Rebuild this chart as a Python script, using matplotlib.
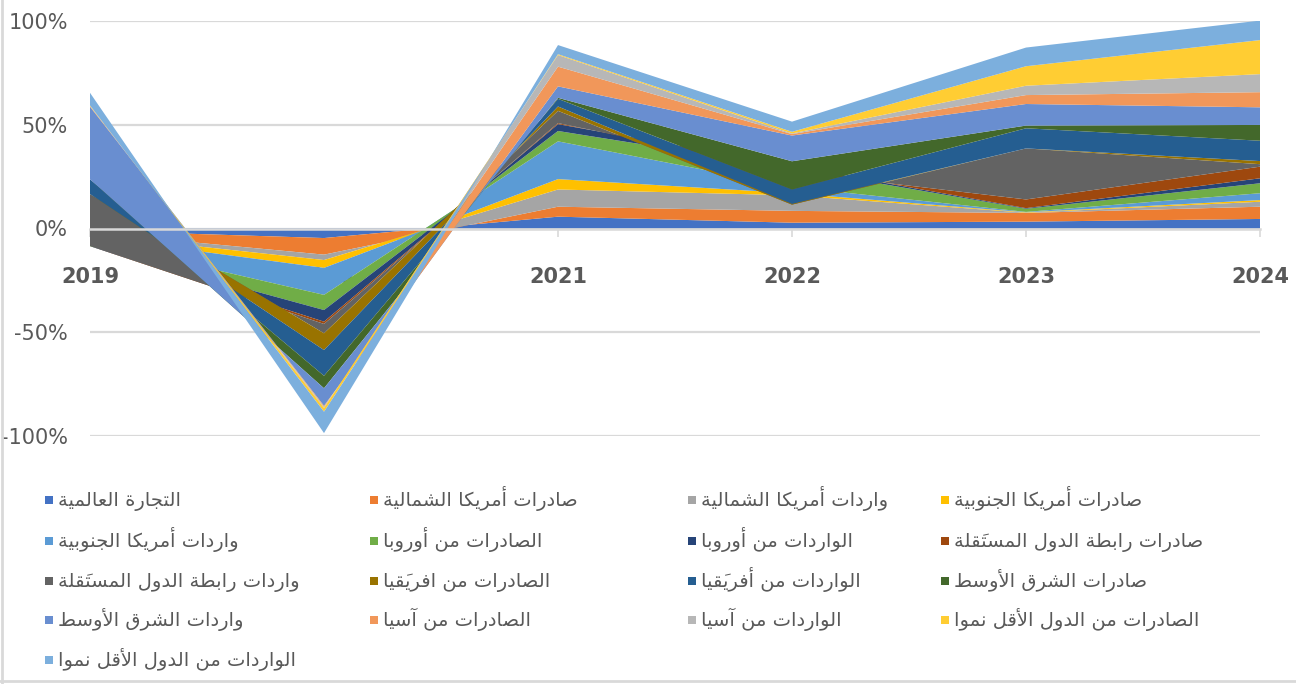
import numpy as np
import matplotlib
matplotlib.use("Agg")
from matplotlib import pyplot as plt
from matplotlib.lines import Line2D
from matplotlib.patches import Rectangle

years = ["2019", "2020", "2021", "2022", "2023", "2024"]

labels = [
    "التجارة العالمية",
    "صادرات أمريكا الشمالية",
    "واردات أمريكا الشمالية",
    "صادرات أمريكا الجنوبية",
    "واردات أمريكا الجنوبية",
    "الصادرات من أوروبا",
    "الواردات من أوروبا",
    "صادرات رابطة الدول المستقَلة",
    "واردات رابطة الدول المستقَلة",
    "الصادرات من افريقَيا",
    "الواردات من أفريقَيا",
    "صادرات الشرق الأوسط",
    "واردات الشرق الأوسط",
    "الصادرات من آسيا",
    "الواردات من آسيا",
    "الصادرات من الدول الأقل نموا",
    "الواردات من الدول الأقل نموا",
]

colors = ["#4472C4", "#ED7D31", "#A5A5A5", "#FFC000", "#5B9BD5", "#70AD47",
          "#264478", "#9E480E", "#636363", "#997300", "#255E91", "#43682B",
          "#698ED0", "#F1975A", "#B7B7B7", "#FFCD33", "#7CAFDD"]

# growth rates in %, one list per series (2019 .. 2024)
world_trade       = [-1.0,  -4.6,  5.7,   2.8,  3.3,  4.6]
na_exports        = [-1.0,  -8.0,  4.8,   5.7,  4.2,  5.9]
na_imports        = [-1.0,  -2.6,  8.3,   7.5,  0.1,  2.4]
sa_exports        = [-1.0,  -3.8,  5.0,   1.0,  0.2,  0.8]
sa_imports        = [-2.0, -13.0, 18.2,   3.0,  0.2,  3.3]
europe_exports    = [-2.5,  -7.3,  5.0,   9.0,  1.5,  4.8]
europe_imports    = [ 0.0,  -5.6,  3.3,   1.0,  0.3,  2.4]
cis_exports       = [ 0.0,  -1.1,  0.5,  -2.7,  4.2,  5.6]
cis_imports       = [25.1,  -4.5,  5.9, -15.8, 24.6,  1.2]
africa_exports    = [ 0.0,  -8.1,  2.1,   0.4,  0.0,  1.5]
africa_imports    = [ 7.1, -12.4,  3.7,   6.9,  9.7,  9.8]
me_exports        = [ 0.0,  -6.0,  0.5,  13.6,  1.3,  7.6]
me_imports        = [35.0,  -8.5,  5.5,  12.4, 10.4,  8.5]
asia_exports      = [ 0.3,  -0.5,  9.5,   0.7,  4.3,  7.3]
asia_imports      = [ 0.0,  -0.5,  5.6,   0.3,  4.5,  8.7]
ldc_exports       = [ 0.3,  -1.8,  0.4,   0.8,  9.4, 16.4]
ldc_imports       = [ 6.1, -10.3,  4.4,   4.9,  9.0,  9.4]

series = [world_trade, na_exports, na_imports, sa_exports, sa_imports,
          europe_exports, europe_imports, cis_exports, cis_imports,
          africa_exports, africa_imports, me_exports, me_imports,
          asia_exports, asia_imports, ldc_exports, ldc_imports]

# --- tiny Arabic shaper (matplotlib has no bidi / joining support) ---
FOUR = {"ئ": 0xFE89, "ب": 0xFE8F, "ت": 0xFE95, "ث": 0xFE99, "ج": 0xFE9D, "ح": 0xFEA1,
        "خ": 0xFEA5, "س": 0xFEB1, "ش": 0xFEB5, "ص": 0xFEB9, "ض": 0xFEBD, "ط": 0xFEC1,
        "ظ": 0xFEC5, "ع": 0xFEC9, "غ": 0xFECD, "ف": 0xFED1, "ق": 0xFED5, "ك": 0xFED9,
        "ل": 0xFEDD, "م": 0xFEE1, "ن": 0xFEE5, "ه": 0xFEE9, "ي": 0xFEF1}
TWO = {"آ": 0xFE81, "أ": 0xFE83, "ؤ": 0xFE85, "إ": 0xFE87, "ا": 0xFE8D, "ة": 0xFE93,
       "د": 0xFEA9, "ذ": 0xFEAB, "ر": 0xFEAD, "ز": 0xFEAF, "و": 0xFEED, "ى": 0xFEEF}
LAM_ALEF = {"آ": 0xFEF5, "أ": 0xFEF7, "إ": 0xFEF9, "ا": 0xFEFB}


def is_mark(c):
    return 0x064B <= ord(c) <= 0x0652


def shape(text):
    base = [(i, c) for i, c in enumerate(text) if not is_mark(c)]
    marks = {}
    for i, c in enumerate(text):
        if is_mark(c):
            j = max(k for k, _ in base if k < i)
            marks[j] = marks.get(j, "") + c
    tokens = []
    n = 0
    while n < len(base):
        idx, c = base[n]
        prev = base[n - 1][1] if n > 0 else " "
        nxt = base[n + 1][1] if n + 1 < len(base) else " "
        joins_prev = prev in FOUR
        if c == "ل" and nxt in LAM_ALEF:
            glyph = chr(LAM_ALEF[nxt] + (1 if joins_prev else 0))
            tokens.append(glyph + marks.get(idx, "") + marks.get(base[n + 1][0], ""))
            n += 2
            continue
        if c in FOUR:
            joins_next = nxt in FOUR or nxt in TWO
            form = {(False, False): 0, (True, False): 1, (False, True): 2, (True, True): 3}[(joins_prev, joins_next)]
            glyph = chr(FOUR[c] + form)
        elif c in TWO:
            glyph = chr(TWO[c] + (1 if joins_prev else 0))
        else:
            glyph = c
        tokens.append(glyph + marks.get(idx, ""))
        n += 1
    return "".join(reversed(tokens))


W, H = 1296, 684
fig = plt.figure(figsize=(W / 100, H / 100), dpi=100)
ax = fig.add_axes([90 / W, 1 - 436 / H, 1170 / W, 415 / H])

x = np.arange(len(years))
polys = ax.stackplot(x, np.array(series), colors=colors, linewidth=0)

ax.set_xlim(0, len(years) - 1)
ax.set_ylim(-100, 100)
ax.set_yticks([-100, -50, 0, 50, 100])
ax.set_yticklabels(["-100%", "-50%", "0%", "50%", "100%"])
ax.yaxis.grid(True, color="#D9D9D9", linewidth=1.6)
ax.set_axisbelow(True)

for side in ["top", "right", "left"]:
    ax.spines[side].set_visible(False)
ax.spines["bottom"].set_position(("data", 0))
ax.spines["bottom"].set_color("#D9D9D9")
ax.spines["bottom"].set_linewidth(1.8)
ax.spines["bottom"].set_zorder(5)

ax.set_xticks(x)
ax.set_xticklabels(years)
ax.tick_params(axis="x", length=6, width=1.2, color="#D9D9D9", pad=22,
               labelsize=15, labelcolor="#595959")
for t in ax.get_xticklabels():
    t.set_fontweight("bold")
ax.tick_params(axis="y", length=0, pad=16, labelsize=15, labelcolor="#595959")

# legend: four columns filled row by row, as in the original
col_x = [45, 370, 688, 941]
row_y = [500, 541, 581, 620, 660]
for i, lab in enumerate(labels):
    cx, cy = col_x[i % 4], row_y[i // 4]
    fig.add_artist(Rectangle((cx / W, 1 - (cy + 4) / H), 8 / W, 8 / H,
                             transform=fig.transFigure, color=polys[i].get_facecolor()[0], lw=0))
    fig.text((cx + 13) / W, 1 - (cy + 6) / H, shape(lab), ha="left", va="baseline",
             family="DejaVu Sans", fontsize=14, color="#595959")

fig.add_artist(Line2D([0.0015, 0.0015], [0, 1], transform=fig.transFigure, color="#D9D9D9", lw=2))
fig.add_artist(Line2D([0, 1], [0.004, 0.004], transform=fig.transFigure, color="#D9D9D9", lw=2))

fig.savefig("out.png", dpi=100)
